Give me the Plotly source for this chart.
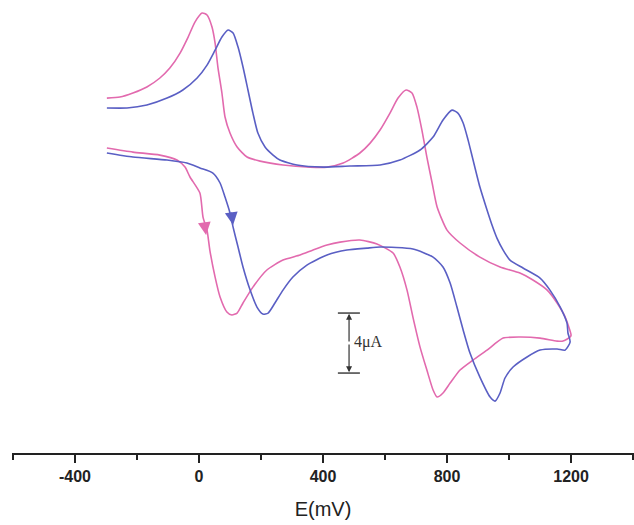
import plotly.graph_objects as go

# Potential (mV) and current (uA, cathodic up)
# each curve: forward scan (lower branch, left->right) then reverse scan (upper branch, right->left)
pink_E = [-297, -213, -126, -71, -45, -29, 3, 13, 26, 35, 52, 68, 90, 106, 123, 142, 174, 219, 271, 326, 368, 413, 455, 519, 574, 626, 648, 671, 690, 713, 735, 755, 768, 787, 810, 842, 884, 929, 981, 1035, 1100, 1155, 1174, 1197,
          1200, 1181, 1155, 1123, 1077, 1035, 971, 906, 842, 800, 768, 752, 735, 719, 703, 687, 668, 642, 616, 584, 552, 519, 465, 413, 358, 271, 197, 155, 123, 100, 84, 74, 61, 52, 42, 26, 10, -13, -35, -61, -94, -126, -168, -213, -255, -297]
pink_I = [6.8, 6.53, 6.33, 6.0, 5.53, 4.87, 3.8, 2.2, 1.33, 0.0, -1.8, -3.13, -4.13, -4.33, -4.2, -3.53, -2.47, -1.33, -0.67, -0.33, 0.0, 0.33, 0.53, 0.67, 0.4, -0.2, -1.13, -2.67, -4.47, -6.47, -8.0, -9.33, -9.8, -9.53, -8.87, -8.0, -7.33, -6.67, -5.87, -5.8, -5.87, -6.07, -6.07, -5.8,
          -5.67, -4.47, -3.53, -2.67, -2.0, -1.53, -1.13, -0.47, 0.47, 1.33, 2.87, 4.47, 6.2, 8.0, 9.53, 10.47, 10.67, 10.13, 9.13, 8.0, 7.13, 6.47, 5.8, 5.53, 5.53, 5.67, 5.93, 6.2, 6.87, 7.8, 8.87, 10.47, 12.2, 13.8, 14.87, 15.67, 15.8, 15.2, 14.2, 13.13, 12.13, 11.47, 10.87, 10.47, 10.2, 10.13]

blue_E = [-297, -213, -103, -39, 3, 45, 68, 84, 100, 110, 126, 142, 165, 187, 206, 223, 245, 271, 303, 348, 413, 477, 542, 584, 690, 755, 787, 810, 832, 852, 874, 906, 939, 955, 971, 987, 1013, 1058, 1100, 1155, 1181, 1197,
          1190, 1187, 1165, 1132, 1100, 1045, 1003, 981, 961, 945, 929, 906, 884, 868, 852, 835, 816, 787, 755, 713, 648, 584, 487, 400, 316, 261, 239, 213, 190, 174, 158, 142, 126, 110, 94, 74, 52, 26, -6, -52, -103, -168, -232, -297]
blue_I = [6.47, 6.2, 6.0, 5.8, 5.47, 5.13, 4.47, 3.53, 2.47, 1.53, 0.2, -1.13, -2.67, -3.8, -4.27, -4.2, -3.53, -2.67, -1.8, -1.0, -0.33, 0.0, 0.13, 0.2, 0.07, -0.47, -1.13, -2.2, -3.8, -5.33, -6.87, -8.47, -9.8, -10.07, -9.53, -8.53, -7.8, -7.13, -6.67, -6.6, -6.67, -6.13,
          -5.53, -4.87, -3.8, -2.67, -1.87, -1.2, -0.67, 0.0, 0.8, 1.67, 2.67, 4.2, 6.0, 7.33, 8.47, 9.13, 9.33, 8.67, 7.53, 6.67, 6.0, 5.67, 5.6, 5.53, 5.67, 6.0, 6.33, 6.87, 7.8, 9.13, 10.67, 12.2, 13.53, 14.47, 14.67, 14.2, 13.33, 12.33, 11.47, 10.67, 10.13, 9.67, 9.47, 9.47]

x_ticks = [-400, 0, 400, 800, 1200]
x_tick_labels = ["-400", "0", "400", "800", "1200"]

PINK = "#E26AAE"
BLUE = "#5A5FC4"

fig = go.Figure()
fig.add_trace(go.Scatter(x=pink_E, y=pink_I, mode="lines",
                         line=dict(color=PINK, width=1.6, shape="spline", smoothing=0.6), showlegend=False))
fig.add_trace(go.Scatter(x=blue_E, y=blue_I, mode="lines",
                         line=dict(color=BLUE, width=1.6, shape="spline", smoothing=0.6), showlegend=False))

# scan direction arrows
for xe, yi, col in [(23, 1.0, PINK), (110, 1.67, BLUE)]:
    fig.add_annotation(x=xe, y=yi, ax=-2, ay=-14, showarrow=True, arrowhead=2, arrowsize=1.6,
                       arrowwidth=1.6, arrowcolor=col, text="")

# scale bar 4 uA
bx = 484
fig.add_shape(type="line", x0=448, x1=519, y0=-4.2, y1=-4.2, line=dict(color="#333", width=1.4))
fig.add_shape(type="line", x0=448, x1=519, y0=-8.2, y1=-8.2, line=dict(color="#333", width=1.4))
fig.add_annotation(x=bx, y=-4.25, ax=bx, ay=-6.2, axref="x", ayref="y", showarrow=True, arrowhead=2,
                   arrowsize=1, arrowwidth=1.2, arrowcolor="#333", text="")
fig.add_annotation(x=bx, y=-8.15, ax=bx, ay=-6.2, axref="x", ayref="y", showarrow=True, arrowhead=2,
                   arrowsize=1, arrowwidth=1.2, arrowcolor="#333", text="")
fig.add_annotation(x=495, y=-6.1, text="4μA", showarrow=False, xanchor="left",
                   font=dict(family="Liberation Serif, Times New Roman", size=16, color="#333"))

fig.update_layout(
    width=634, height=525,
    margin=dict(l=12, r=0, t=0, b=72),
    plot_bgcolor="white", paper_bgcolor="white",
    xaxis=dict(range=[-603, 1403], showline=True, linecolor="#222", linewidth=2,
               tickmode="array", tickvals=x_ticks, ticktext=x_tick_labels,
               ticks="outside", ticklen=8, tickwidth=2, tickcolor="#222",
               minor=dict(dtick=200, tick0=0, ticks="outside", ticklen=5, tickwidth=2, tickcolor="#222", showgrid=False),
               showgrid=False, zeroline=False,
               tickfont=dict(family="Liberation Sans, Arial", size=16, color="#222", weight="bold"),
               title=dict(text="E(mV)", font=dict(family="Liberation Sans, Arial", size=20, color="#222"), standoff=18)),
    yaxis=dict(range=[-13.53, 16.67], visible=False),
)

fig.write_html("out.html")
